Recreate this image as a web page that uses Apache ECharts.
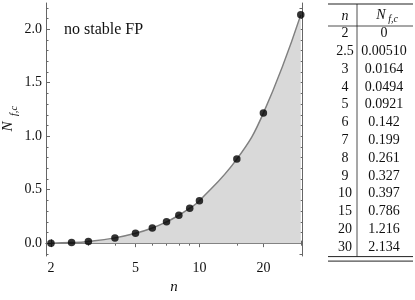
<!DOCTYPE html>
<html>
<head>
<meta charset="utf-8">
<script src="https://cdn.jsdelivr.net/npm/echarts@6/dist/echarts.min.js"></script>
<style>html,body{margin:0;padding:0;background:#fff}#c{width:415px;height:300px}</style>
</head>
<body>
<div id="c"></div>
<script>
// ---- data ----
const nValues   = [2, 2.5, 3, 4, 5, 6, 7, 8, 9, 10, 15, 20, 30];
const nfcValues = [0, 0.0051, 0.0164, 0.0494, 0.0921, 0.142, 0.199, 0.261, 0.327, 0.397, 0.786, 1.216, 2.134];
const nLabels   = ['2', '2.5', '3', '4', '5', '6', '7', '8', '9', '10', '15', '20', '30'];
const nfcLabels = ['0', '0.00510', '0.0164', '0.0494', '0.0921', '0.142', '0.199', '0.261', '0.327', '0.397', '0.786', '1.216', '2.134'];
const xMajorTicks = [2, 5, 10, 20];
const xMinorTicks = [3, 4, 6, 7, 8, 9, 15, 30];
const yMajorTicks = [0, 0.5, 1, 1.5, 2];
const yMinorTicks = [-0.1, 0.1, 0.2, 0.3, 0.4, 0.6, 0.7, 0.8, 0.9, 1.1, 1.2, 1.3, 1.4, 1.6, 1.7, 1.8, 1.9, 2.1, 2.2];
const regionTop = 'no stable FP';
const regionBottom = 'stable FP';

// ---- style ----
const SERIF = '"Liberation Serif", "DejaVu Serif", serif';
const AX = '#666';
const X_MIN = 1.895, X_MAX = 30.4, Y_MIN = -0.12, Y_MAX = 2.245;

const chart = echarts.init(document.getElementById('c'), null, {renderer: 'canvas'});

function xAxisDef(pos, ticks, len, labels, line) {
  return {
    type: 'log', gridIndex: 0, position: pos, min: X_MIN, max: X_MAX, logBase: 10,
    axisLine: {show: line, lineStyle: {color: AX, width: 1}},
    axisTick: {show: true, inside: true, length: len, customValues: ticks, lineStyle: {color: AX, width: 1}},
    axisLabel: labels ? {show: true, customValues: ticks, margin: 5, color: '#111',
      fontFamily: SERIF, fontSize: 14, formatter: v => String(v)} : {show: false},
    splitLine: {show: false}, minorTick: {show: false}
  };
}
function yAxisDef(pos, ticks, len, labels, line) {
  return {
    type: 'value', gridIndex: 0, position: pos, min: Y_MIN, max: Y_MAX,
    axisLine: {show: line, lineStyle: {color: AX, width: 1}},
    axisTick: {show: true, inside: true, length: len, customValues: ticks, lineStyle: {color: AX, width: 1}},
    axisLabel: labels ? {show: true, customValues: ticks, margin: 4, color: '#111',
      fontFamily: SERIF, fontSize: 14, formatter: v => Number(v).toFixed(1)} : {show: false},
    splitLine: {show: false}
  };
}

const xAxes = [
  Object.assign(xAxisDef('bottom', xMajorTicks, 4, true, true), {
    name: 'n', nameLocation: 'middle', nameGap: 24,
    nameTextStyle: {fontFamily: SERIF, fontStyle: 'italic', fontSize: 15, color: '#111'}
  }),
  xAxisDef('bottom', xMinorTicks, 2.5, false, false),
  xAxisDef('top', xMajorTicks, 4, false, true),
  xAxisDef('top', xMinorTicks, 2.5, false, false)
];
const yAxes = [
  yAxisDef('left', yMajorTicks, 4, true, true),
  yAxisDef('left', yMinorTicks, 2.5, false, false),
  yAxisDef('right', yMajorTicks, 4, false, true),
  yAxisDef('right', yMinorTicks, 2.5, false, false)
];

const points = nValues.map((n, i) => [n, nfcValues[i]]);

// ---- table graphic ----
const TX0 = 328, TX1 = 413, TVX = 357, COL1 = 345, COL2 = 384;
const TTOP = 4, THEAD = 16, TSEP = 26, ROW0 = 33.5, ROWH = 17.8;
const TBOT = ROW0 + (nValues.length - 1) * ROWH + 9.5;
const tableEls = [];
function hline(y, w) {
  tableEls.push({type: 'line', shape: {x1: TX0, y1: y, x2: TX1, y2: y}, style: {stroke: '#222', lineWidth: w}});
}
hline(TTOP, 1.2);
hline(TSEP, 0.8);
hline(TBOT, 1);
hline(TBOT + 4.5, 1);
tableEls.push({type: 'line', shape: {x1: TVX, y1: TTOP, x2: TVX, y2: TBOT}, style: {stroke: '#222', lineWidth: 0.8}});
tableEls.push({type: 'text', x: COL1, y: THEAD, style: {text: 'n', font: 'italic 14px ' + SERIF, fill: '#111', align: 'center', verticalAlign: 'middle'}});
tableEls.push({type: 'text', x: COL2 - 3, y: THEAD - 1, style: {text: 'N', font: 'italic 14px ' + SERIF, fill: '#111', align: 'center', verticalAlign: 'middle'}});
tableEls.push({type: 'text', x: COL2 + 9, y: THEAD + 3, style: {text: 'f,c', font: 'italic 10px ' + SERIF, fill: '#111', align: 'center', verticalAlign: 'middle'}});
nLabels.forEach((t, i) => {
  const y = ROW0 + i * ROWH;
  tableEls.push({type: 'text', x: COL1, y: y, style: {text: t, font: '14px ' + SERIF, fill: '#111', align: 'center', verticalAlign: 'middle'}});
  tableEls.push({type: 'text', x: COL2, y: y, style: {text: nfcLabels[i], font: '14px ' + SERIF, fill: '#111', align: 'center', verticalAlign: 'middle'}});
});

const option = {
  backgroundColor: '#fff',
  animation: false,
  grid: {left: 46, right: 113, top: 3, bottom: 38, containLabel: false},
  xAxis: xAxes,
  yAxis: yAxes,
  series: [
    {
      type: 'line', xAxisIndex: 0, yAxisIndex: 0, data: points, smooth: 0.45,
      showSymbol: false, lineStyle: {color: '#808080', width: 1.5},
      areaStyle: {color: '#d9d9d9', opacity: 1}, z: 2
    },
    {
      type: 'scatter', xAxisIndex: 0, yAxisIndex: 0, data: points, symbolSize: 7.5,
      itemStyle: {color: '#000'}, z: 3
    }
  ],
  graphic: [
    {type: 'text', x: 64, y: 30, style: {text: regionTop, font: '16px ' + SERIF, fill: '#111', verticalAlign: 'middle'}},
    {type: 'text', x: 225, y: 238, style: {text: regionBottom, font: '15.5px ' + SERIF, fill: '#111', verticalAlign: 'middle'}},
    {type: 'text', x: 8.5, y: 126.5, rotation: Math.PI / 2, style: {text: 'N', font: 'italic 15px ' + SERIF, fill: '#111', align: 'center', verticalAlign: 'middle'}},
    {type: 'text', x: 14, y: 111, rotation: Math.PI / 2, style: {text: 'f,c', font: 'italic 10.5px ' + SERIF, fill: '#111', align: 'center', verticalAlign: 'middle'}},
    {type: 'group', children: tableEls}
  ]
};
chart.setOption(option);
</script>
</body>
</html>
